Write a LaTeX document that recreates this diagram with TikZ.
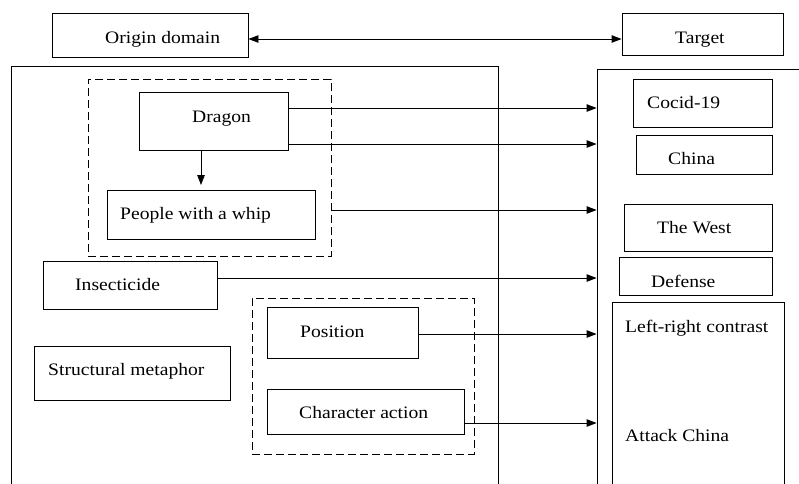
\documentclass[tikz,border=0pt]{standalone}
\usepackage{fontspec}
\setmainfont{Liberation Serif}[FakeStretch=1.12]
\usetikzlibrary{arrows.meta}
\begin{document}
\begin{tikzpicture}[x=1pt,y=-1pt,
  font=\fontsize{17.5}{21}\selectfont,
  box/.style={draw, line width=0.9pt, inner sep=0, minimum width=#1},
  grp/.style={draw, line width=0.9pt, inner sep=0, dash pattern=on 8pt off 4pt, minimum width=#1},
  lbl/.style={anchor=base west, inner sep=0},
  link/.style={line width=0.9pt, -{Triangle[length=10pt,width=7.5pt]}},
  biglink/.style={line width=0.9pt, {Triangle[length=10pt,width=7.5pt]}-{Triangle[length=10pt,width=7.5pt]}}]
\useasboundingbox (0,0) rectangle (799,483);
\fill[white] (0,0) rectangle (799,483);
\clip (0,0) rectangle (799,483);

% header boxes
\node[box=196pt, minimum height=44pt] (origin) at (150,35) {};
\node[box=161pt, minimum height=42pt] (target) at (702.5,34) {};

% source and target frames (open towards the bottom)
\node[box=487pt, minimum height=434pt] (srcframe) at (254.5,283) {};
\node[box=223pt, minimum height=431pt] (tgtframe) at (708.5,284.5) {};

% source side
\node[grp=243pt, minimum height=177pt] (grpA) at (209.5,167.5) {};
\node[box=149pt, minimum height=58pt] (dragon) at (213.5,121) {};
\node[box=208pt, minimum height=49pt] (people) at (211,214.5) {};
\node[box=174pt, minimum height=48pt] (insect) at (130,285) {};
\node[box=196pt, minimum height=54pt] (struct) at (132,373) {};
\node[grp=222pt, minimum height=156pt] (grpB) at (363,376) {};
\node[box=151pt, minimum height=51pt] (position) at (342.5,332.5) {};
\node[box=197pt, minimum height=45pt] (action) at (365.5,411.5) {};

% target side
\node[box=139pt, minimum height=48pt] (cocid) at (702.5,103) {};
\node[box=136pt, minimum height=39pt] (china) at (704,154.5) {};
\node[box=148pt, minimum height=47pt] (west) at (698,227.5) {};
\node[box=153pt, minimum height=38pt] (defense) at (695.5,276) {};
\node[box=172pt, minimum height=198pt] (contrast) at (698,401) {};

% texts
\node[lbl] (t-origin) at (105,43.5) {Origin domain};
\node[lbl] (t-target) at (675,43.5) {Target};
\node[lbl] (t-dragon) at (192,122.5) {Dragon};
\node[lbl] (t-people) at (120,219) {People with a whip};
\node[lbl] (t-insect) at (75,290.5) {Insecticide};
\node[lbl] (t-struct) at (48,375.5) {Structural metaphor};
\node[lbl] (t-position) at (300,337.5) {Position};
\node[lbl] (t-action) at (299,418.5) {Character action};
\node[lbl] (t-cocid) at (647,108.5) {Cocid-19};
\node[lbl] (t-china) at (668,164.5) {China};
\node[lbl] (t-west) at (657,233.5) {The West};
\node[lbl] (t-defense) at (651,287.5) {Defense};
\node[lbl] (t-contrast) at (625,332.5) {Left-right contrast};
\node[lbl] (t-attack) at (625,441.5) {Attack China};

% connectors
\draw[biglink] (origin.east |- 0,39) -- (target.west |- 0,39);
\draw[link] (dragon.south -| 201,0) -- (201,185);
\draw[link] (dragon.east |- 0,108) -- (tgtframe.west |- 0,108);
\draw[link] (dragon.east |- 0,144) -- (tgtframe.west |- 0,144);
\draw[link] (grpA.east |- 0,210) -- (tgtframe.west |- 0,210);
\draw[link] (insect.east |- 0,278) -- (tgtframe.west |- 0,278);
\draw[link] (position.east |- 0,334) -- (tgtframe.west |- 0,334);
\draw[link] (action.east |- 0,423) -- (tgtframe.west |- 0,423);
\end{tikzpicture}
\end{document}
